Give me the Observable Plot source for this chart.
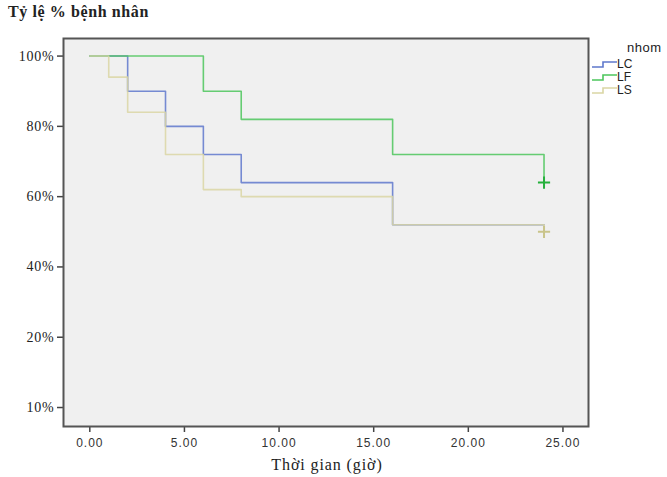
<!DOCTYPE html>
<html>
<head>
<meta charset="utf-8">
<script src="https://cdn.jsdelivr.net/npm/d3@7"></script>
<script src="https://cdn.jsdelivr.net/npm/@observablehq/plot@0.6"></script>
<style>
  html, body { margin: 0; padding: 0; background: #fff; }
  #wrap { position: relative; width: 667px; height: 477px; overflow: hidden; }
  .ov { position: absolute; white-space: nowrap; color: #222; }
  #title { left: 8px; top: 3px; font: bold 16px "Liberation Serif", serif; letter-spacing: 0.6px; }
  #xlabel { left: 327px; top: 456px; transform: translateX(-50%); font: 16px "Liberation Serif", serif; letter-spacing: 0.9px; }
  #legend { left: 591px; top: 40px; font: 12px "Liberation Sans", sans-serif; }
  g.yax text { font-family: "Liberation Serif", "DejaVu Serif", serif !important; font-size: 14px !important; letter-spacing: 0.8px; }
  g.xax text { font-family: "Liberation Sans", sans-serif !important; font-size: 12px !important; letter-spacing: 1px; }
</style>
</head>
<body>
<div id="wrap">
  <div id="chart"></div>
  <div class="ov" id="title">Tỷ lệ % bệnh nhân</div>
  <div class="ov" id="xlabel">Thời gian (giờ)</div>
  <div class="ov" id="legend"></div>
</div>
<script>
// ---- data ----
const groups = ["LC", "LF", "LS"];
const groupColors = ["#5f78cc", "#4cc65c", "#dad6a4"];
const censorColors = ["#5f78cc", "#25b03c", "#c9c48a"];

const lcTime = [0, 2, 4, 6, 8, 16, 24];
const lcSurv = [100, 90, 80, 72, 64, 52, 52];

const lfTime = [0, 6, 8, 16, 24, 24];
const lfSurv = [100, 90, 82, 72, 72, 64];

const lsTime = [0, 1, 2, 4, 6, 8, 16, 24, 24];
const lsSurv = [100, 94, 84, 72, 62, 60, 52, 52, 50];

const censorGroup = ["LF", "LS"];
const censorTime = [24, 24];
const censorSurv = [64, 50];

const xTicks = [0, 5, 10, 15, 20, 25];
const xTickLabels = ["0.00", "5.00", "10.00", "15.00", "20.00", "25.00"];
const yTicks = [100, 80, 60, 40, 20, 0];
const yTickLabels = ["100%", "80%", "60%", "40%", "20%", "10%"];

// ---- build tables ----
function rows(g, t, s) { return t.map((v, i) => ({group: g, time: v, surv: s[i]})); }
const curves = [
  ...rows("LC", lcTime, lcSurv),
  ...rows("LF", lfTime, lfSurv),
  ...rows("LS", lsTime, lsSurv)
];
const censors = censorGroup.map((g, i) => ({group: g, time: censorTime[i], surv: censorSurv[i]}));

const chart = Plot.plot({
  width: 667,
  height: 477,
  marginLeft: 63,
  marginRight: 79,
  marginTop: 38,
  marginBottom: 51,
  style: {background: "transparent", overflow: "visible"},
  x: {domain: [-1.39, 26.35], label: null},
  y: {domain: [-5.4, 105], label: null},
  color: {domain: groups, range: groupColors},
  marks: [
    Plot.frame({fill: "#f0f0f0", stroke: null}),
    Plot.axisX({className: "xax", ticks: xTicks, tickFormat: (d) => xTickLabels[xTicks.indexOf(d)], tickSize: 6, tickPadding: 6, stroke: "#444", strokeWidth: 1.5, fill: "#333", fontFamily: "Liberation Sans", fontSize: 12, label: null}),
    Plot.axisY({className: "yax", ticks: yTicks, tickFormat: (d) => yTickLabels[yTicks.indexOf(d)], tickSize: 6, tickPadding: 3, stroke: "#444", strokeWidth: 1.5, fill: "#222", fontFamily: "Liberation Serif", fontSize: 14, label: null}),
    Plot.line(curves, {x: "time", y: "surv", z: "group", stroke: "group", curve: "step-after", strokeWidth: 1.6, strokeOpacity: 0.85}),
    Plot.dot(censors, {x: "time", y: "surv", symbol: "plus", r: 4, stroke: (d) => censorColors[groups.indexOf(d.group)], strokeWidth: 2}),
    Plot.frame({stroke: "#555", strokeWidth: 2, fill: null})
  ]
});
document.getElementById("chart").appendChild(chart);

// ---- legend ----
const lg = document.getElementById("legend");
const ys = [0, 13, 26];
let html = '<div style="position:absolute;left:36px;top:0;font-size:13px;letter-spacing:0.5px">nhom</div>';
groups.forEach((g, i) => {
  const top = 19 + ys[i];
  html += `<svg style="position:absolute;left:0;top:${top}px" width="28" height="10"><path d="M1 8 H12 V3 H26" fill="none" stroke="${groupColors[i]}" stroke-width="1.6"/></svg>`;
  html += `<div style="position:absolute;left:26px;top:${top - 2}px;font-size:12px">${g}</div>`;
});
lg.innerHTML = html;
</script>
</body>
</html>
